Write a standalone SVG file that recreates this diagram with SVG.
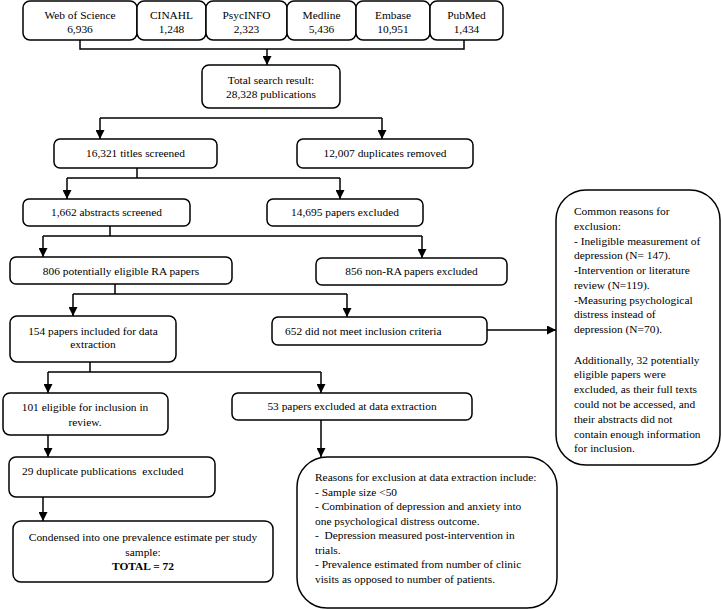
<svg xmlns="http://www.w3.org/2000/svg" width="721" height="610" viewBox="0 0 721 610">
<style>
.b{fill:#fff;stroke:#000;stroke-width:1.5}
.t{font-family:'Liberation Serif','DejaVu Serif',serif;font-size:11.4px;fill:#000;white-space:pre}
.c{text-anchor:middle}
.l{fill:none;stroke:#000;stroke-width:1.5}
</style>
<defs>
<marker id="a" viewBox="0 0 10 10" refX="10" refY="5" markerWidth="9" markerHeight="9" markerUnits="userSpaceOnUse" orient="auto"><path d="M0,0 L10,5 L0,10 Z" fill="#000"/></marker>
</defs>
<rect width="721" height="610" fill="#fff"/>
<g id="connectors">
<path class="l" d="M80,40 V49 H464 V40"/>
<path class="l" d="M267,49 V65" marker-end="url(#a)"/>
<path class="l" d="M100,118 H382"/>
<path class="l" d="M100,118 V139" marker-end="url(#a)"/>
<path class="l" d="M382,118 V139" marker-end="url(#a)"/>
<path class="l" d="M137,168 V178 M67,178 H340"/>
<path class="l" d="M67,178 V199" marker-end="url(#a)"/>
<path class="l" d="M340,178 V199" marker-end="url(#a)"/>
<path class="l" d="M110,226 V236 M43,236 H422"/>
<path class="l" d="M43,236 V257" marker-end="url(#a)"/>
<path class="l" d="M422,236 V258" marker-end="url(#a)"/>
<path class="l" d="M115,284 V294 M73,294 H347"/>
<path class="l" d="M73,294 V316" marker-end="url(#a)"/>
<path class="l" d="M347,294 V317" marker-end="url(#a)"/>
<path class="l" d="M487,330 H556" marker-end="url(#a)"/>
<path class="l" d="M90,362 V372 M48,372 H321"/>
<path class="l" d="M48,372 V393" marker-end="url(#a)"/>
<path class="l" d="M321,372 V393" marker-end="url(#a)"/>
<path class="l" d="M48,435 V457" marker-end="url(#a)"/>
<path class="l" d="M43,497 V521" marker-end="url(#a)"/>
<path class="l" d="M321,420 V457" marker-end="url(#a)"/>
</g>
<g id="wos"><rect class="b" x="23" y="1" width="114" height="39" rx="7"/><text class="t c" x="80" y="19">Web of Science</text><text class="t c" x="80" y="33">6,936</text></g>
<g id="cinahl"><rect class="b" x="137" y="1" width="69" height="39" rx="7"/><text class="t c" x="171.5" y="19">CINAHL</text><text class="t c" x="171.5" y="33">1,248</text></g>
<g id="psycinfo"><rect class="b" x="206" y="1" width="81" height="39" rx="7"/><text class="t c" x="246.5" y="19">PsycINFO</text><text class="t c" x="246.5" y="33">2,323</text></g>
<g id="medline"><rect class="b" x="287" y="1" width="69" height="39" rx="7"/><text class="t c" x="321.5" y="19">Medline</text><text class="t c" x="321.5" y="33">5,436</text></g>
<g id="embase"><rect class="b" x="356" y="1" width="74" height="39" rx="7"/><text class="t c" x="393" y="19">Embase</text><text class="t c" x="393" y="33">10,951</text></g>
<g id="pubmed"><rect class="b" x="430" y="1" width="73" height="39" rx="7"/><text class="t c" x="466.5" y="19">PubMed</text><text class="t c" x="466.5" y="33">1,434</text></g>
<g id="total"><rect class="b" x="202" y="65" width="138" height="43" rx="7"/><text class="t c" x="271" y="84">Total search result:</text><text class="t c" x="271" y="98">28,328 publications</text></g>
<g id="titles"><rect class="b" x="54" y="139" width="163" height="29" rx="6"/><text class="t c" x="135.5" y="157">16,321 titles screened</text></g>
<g id="dups"><rect class="b" x="297" y="139" width="176" height="29" rx="6"/><text class="t c" x="385" y="157">12,007 duplicates removed</text></g>
<g id="abstracts"><rect class="b" x="23" y="199" width="167" height="27" rx="6"/><text class="t c" x="106.5" y="216">1,662 abstracts screened</text></g>
<g id="excl14695"><rect class="b" x="267" y="199" width="156" height="27" rx="6"/><text class="t c" x="345" y="216">14,695 papers excluded</text></g>
<g id="eligible806"><rect class="b" x="10" y="257" width="222" height="27" rx="6"/><text class="t c" x="121" y="275">806 potentially eligible RA papers</text></g>
<g id="nonra856"><rect class="b" x="316" y="258" width="191" height="27" rx="6"/><text class="t c" x="411.5" y="275">856 non-RA papers excluded</text></g>
<g id="included154"><rect class="b" x="10" y="316" width="166" height="46" rx="7"/><text class="t c" x="93" y="335">154 papers included for data</text><text class="t c" x="93" y="347.5">extraction</text></g>
<g id="notmeet652"><rect class="b" x="272" y="317" width="215" height="28" rx="6"/><text class="t" x="285" y="335">652 did not meet inclusion criteria</text></g>
<g id="reasons1"><rect class="b" x="556" y="190" width="164" height="275" rx="30"/>
<text class="t" x="574" y="215">Common reasons for</text>
<text class="t" x="574" y="230">exclusion:</text>
<text class="t" x="574" y="245">- Ineligible measurement of</text>
<text class="t" x="574" y="259">depression (N= 147).</text>
<text class="t" x="574" y="274">-Intervention or literature</text>
<text class="t" x="574" y="289">review (N=119).</text>
<text class="t" x="574" y="304">-Measuring psychological</text>
<text class="t" x="574" y="318">distress instead of</text>
<text class="t" x="574" y="333">depression (N=70).</text>
<text class="t" x="574" y="364">Additionally, 32 potentially</text>
<text class="t" x="574" y="378">eligible papers were</text>
<text class="t" x="574" y="393">excluded, as their full texts</text>
<text class="t" x="574" y="408">could not be accessed, and</text>
<text class="t" x="574" y="423">their abstracts did not</text>
<text class="t" x="574" y="438">contain enough information</text>
<text class="t" x="574" y="452">for inclusion.</text>
</g>
<g id="eligible101"><rect class="b" x="3" y="393" width="165" height="42" rx="7"/><text class="t c" x="85" y="411">101 eligible for inclusion in</text><text class="t c" x="85" y="426">review.</text></g>
<g id="excl53"><rect class="b" x="232" y="393" width="240" height="27" rx="6"/><text class="t c" x="352" y="410">53 papers excluded at data extraction</text></g>
<g id="dup29"><rect class="b" x="9" y="457" width="206" height="40" rx="7"/><text class="t" x="22" y="475">29 duplicate publications  excluded</text></g>
<g id="condensed"><rect class="b" x="13" y="521" width="260" height="61" rx="8"/><text class="t c" x="143" y="541">Condensed into one prevalence estimate per study</text><text class="t c" x="143" y="556">sample:</text><text class="t c" x="143" y="570" font-weight="bold">TOTAL = 72</text></g>
<g id="reasons2"><rect class="b" x="297" y="457" width="260" height="151" rx="30"/>
<text class="t" x="315" y="481">Reasons for exclusion at data extraction include:</text>
<text class="t" x="315" y="495.5">- Sample size &lt;50</text>
<text class="t" x="315" y="510">- Combination of depression and anxiety into</text>
<text class="t" x="315" y="524.5">one psychological distress outcome.</text>
<text class="t" x="315" y="539">-  Depression measured post-intervention in</text>
<text class="t" x="315" y="553.5">trials.</text>
<text class="t" x="315" y="568">- Prevalence estimated from number of clinic</text>
<text class="t" x="315" y="582.5">visits as opposed to number of patients.</text>
</g>
</svg>
